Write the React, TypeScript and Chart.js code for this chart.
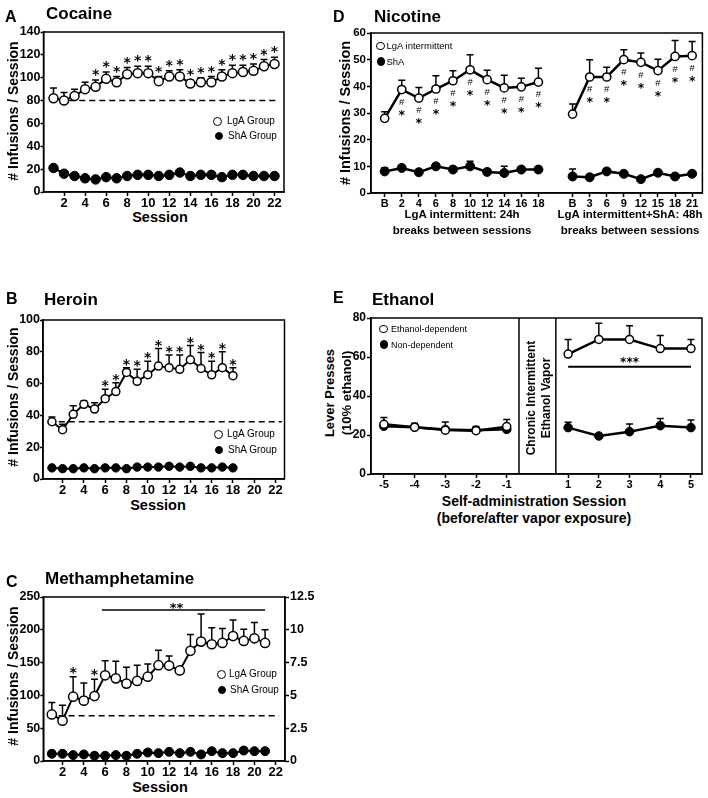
import React, { useEffect, useRef } from "react";
import { Chart, registerables } from "chart.js";

Chart.register(...registerables);

const SANS = "'Liberation Sans', Arial, Helvetica, sans-serif";
const SYM = "'DejaVu Sans', 'Liberation Sans', sans-serif";

/* ---------------- Panel A: Cocaine ---------------- */
const cocaineSessions = [1, 2, 3, 4, 5, 6, 7, 8, 9, 10, 11, 12, 13, 14, 15, 16, 17, 18, 19, 20, 21, 22];
const cocaineLgA = [82, 80, 84, 90, 92, 99, 96, 103, 104, 104, 97, 101, 101, 95, 96, 96, 101, 104, 105, 106, 110, 112];
const cocaineLgAUpper = [91, 87, 90, 96, 98, 105, 101, 109, 110, 110, 101, 106, 107, 98, 100, 101, 107, 111, 111, 112, 116, 118];
const cocaineShA = [21, 16, 14, 12, 11, 13, 12, 14, 15, 15, 14, 15, 17, 14, 15, 15, 13, 15, 15, 14, 14, 14];
const cocaineStarSessions = [5, 6, 7, 8, 9, 10, 11, 12, 13, 14, 15, 16, 17, 18, 19, 20, 21, 22];
const cocaineBaseline = 80;
const cocaineYTicks = [0, 20, 40, 60, 80, 100, 120, 140];

/* ---------------- Panel B: Heroin ---------------- */
const heroinSessions = [1, 2, 3, 4, 5, 6, 7, 8, 9, 10, 11, 12, 13, 14, 15, 16, 17, 18];
const heroinLgA = [36, 31, 40.7, 47, 44, 50.5, 55, 67, 61.4, 65.6, 71, 70, 69, 75, 69.5, 65.5, 70, 65];
const heroinLgAUpper = [39, 34.5, 46, 49, 48, 56.5, 60.5, 70, 69, 74, 82, 78, 78, 84, 79.5, 74, 80, 70];
const heroinShA = [7, 6.5, 6.5, 7, 6.5, 7, 7, 6.5, 7.5, 7.5, 7.5, 8, 7.5, 8, 7, 7, 7.5, 7];
const heroinStarSessions = [6, 7, 8, 9, 10, 11, 12, 13, 14, 15, 16, 17, 18];
const heroinBaseline = 36;
const heroinYTicks = [0, 20, 40, 60, 80, 100];

/* ---------------- Panel C: Methamphetamine ---------------- */
const methSessions = [1, 2, 3, 4, 5, 6, 7, 8, 9, 10, 11, 12, 13, 14, 15, 16, 17, 18, 19, 20, 21];
const methLgA = [71, 61.5, 98, 92, 99, 130.6, 126, 118, 122, 128.5, 146, 145.5, 138, 168, 182, 178, 180, 190.5, 183, 187, 180];
const methLgAUpper = [89, 85, 128.5, 119, 124.5, 153, 152, 143, 146, 148, 169, 160, 142, 193, 224, 203, 202, 215, 201, 211, 200];
const methShA = [11, 11, 9, 10, 8, 8, 9, 8, 11, 13, 12, 14, 12, 14, 10, 15, 12, 12, 16, 15, 15];
const methStarSessions = [3, 5];
const methSigSpan = [5.7, 21];
const methSigLevel = 230;
const methBaseline = 69;
const methYTicks = [0, 50, 100, 150, 200, 250];
const methY2Ticks = [0, 2.5, 5, 7.5, 10, 12.5];

const sessionTicks = [2, 4, 6, 8, 10, 12, 14, 16, 18, 20, 22];

/* ---------------- Panel D: Nicotine ---------------- */
const nicotineDailyLabels = ["B", "2", "4", "6", "8", "10", "12", "14", "16", "18"];
const nicotineDailyLgA = [28, 38.8, 35.6, 39, 42.1, 46.2, 42.5, 39.4, 39.8, 41.6];
const nicotineDailyLgAUpper = [30.5, 42.3, 39.6, 44, 45.8, 51.8, 46, 44.2, 43, 46.8];
const nicotineDailyShA = [8.1, 9.4, 7.8, 10, 8.8, 10, 7.9, 7.5, 8.8, 8.8];
const nicotineDailyShAUpper = [9.5, 10.5, 8.8, 11, 9.8, 11.9, 9, 10, 9.8, 9.8];
const nicotineDailySig = ["2", "4", "6", "8", "10", "12", "14", "16", "18"];
const nicotineSpacedLabels = ["B", "3", "6", "9", "12", "15", "18", "21"];
const nicotineSpacedLgA = [29.6, 43.5, 43.5, 50, 49, 45.9, 51.2, 51.5];
const nicotineSpacedLgAUpper = [33.4, 50, 47.2, 53.7, 52.5, 50.2, 57.2, 56.8];
const nicotineSpacedShA = [6.2, 5.9, 8.1, 7.2, 5.2, 7.6, 6.2, 7.2];
const nicotineSpacedShAUpper = [9, 6.5, 8.8, 7.8, 5.8, 8.2, 6.8, 7.8];
const nicotineSpacedSig = ["3", "6", "9", "12", "15", "18", "21"];
const nicotineYTicks = [0, 10, 20, 30, 40, 50, 60];

/* ---------------- Panel E: Ethanol ---------------- */
const ethanolPreSessions = [-5, -4, -3, -2, -1];
const ethanolPostSessions = [1, 2, 3, 4, 5];
const ethanolDepPre = [25.5, 24, 22.5, 22.2, 24.3];
const ethanolDepPreUpper = [29, 26, 26.7, 24.3, 28];
const ethanolNonPre = [24.5, 24, 22.8, 22.5, 22.9];
const ethanolDepPost = [61.5, 69, 69, 64.3, 64.3];
const ethanolDepPostUpper = [69, 77.3, 76, 71, 69];
const ethanolNonPost = [23.8, 19.5, 21.7, 24.8, 23.8];
const ethanolNonPostUpper = [26.5, 20.5, 25.6, 28.5, 27.7];
const ethanolSigLevel = 55;
const ethanolYTicks = [0, 20, 40, 60, 80];

/* ---------------- helpers ---------------- */
function linAxis(o: any) {
  return {
    type: "linear",
    position: o.position,
    min: o.min,
    max: o.max,
    afterBuildTicks: (s: any) => {
      s.ticks = o.ticks.map((v: number) => ({ value: v }));
    },
    afterFit: (s: any) => {
      if (o.width != null) s.width = o.width;
      if (o.height != null) s.height = o.height;
    },
    ticks: {
      autoSkip: false,
      maxRotation: 0,
      minRotation: 0,
      padding: o.pad ?? 1,
      color: "#000",
      font: { family: SANS, size: o.size, weight: "bold" },
      callback: o.label ?? ((v: number) => String(v)),
    },
    grid: {
      display: true,
      drawOnChartArea: false,
      drawTicks: true,
      tickLength: o.tl ?? 4,
      tickWidth: 1.5,
      tickColor: "#000",
      color: "#000",
    },
    border: { display: true, color: "#000", width: 1.5 },
  };
}

function baseOptions(top: number, right: number, scales: any) {
  return {
    responsive: false,
    animation: false,
    events: [],
    layout: { padding: { top, right, bottom: 0, left: 0 } },
    plugins: { legend: { display: false }, tooltip: { enabled: false }, title: { display: false } },
    scales,
  };
}

function series(xs: number[], ys: number[], r: number, filled: boolean, lw: number) {
  return {
    data: xs.map((x, i) => ({ x, y: ys[i] })),
    borderColor: "#000",
    borderWidth: lw,
    pointRadius: r,
    pointHoverRadius: r,
    pointBorderWidth: filled ? 1 : 1.5,
    pointBackgroundColor: filled ? "#000" : "#fff",
    pointBorderColor: "#000",
    fill: false,
    tension: 0,
    clip: false,
  };
}

function frame(chart: any) {
  const { ctx, chartArea: a } = chart;
  ctx.save();
  ctx.strokeStyle = "#000";
  ctx.lineWidth = 1.5;
  ctx.strokeRect(a.left, a.top, a.right - a.left, a.bottom - a.top);
  ctx.restore();
}

function upperBars(chart: any, ds: number, upper: number[], cap: number) {
  const ctx = chart.ctx;
  const y = chart.scales.y;
  const meta = chart.getDatasetMeta(ds);
  ctx.save();
  ctx.strokeStyle = "#000";
  ctx.lineWidth = 1.5;
  meta.data.forEach((pt: any, i: number) => {
    const hi = upper[i];
    if (hi == null) return;
    const yHi = y.getPixelForValue(hi);
    ctx.beginPath();
    ctx.moveTo(pt.x, pt.y);
    ctx.lineTo(pt.x, yHi);
    ctx.moveTo(pt.x - cap, yHi);
    ctx.lineTo(pt.x + cap, yHi);
    ctx.stroke();
  });
  ctx.restore();
}

function hLine(chart: any, x0: number, x1: number, v: number, dashed: boolean, lw: number) {
  const { ctx, scales } = chart;
  const yy = scales.y.getPixelForValue(v);
  ctx.save();
  ctx.strokeStyle = "#000";
  ctx.lineWidth = lw;
  if (dashed) ctx.setLineDash([6, 4]);
  ctx.beginPath();
  ctx.moveTo(scales.x.getPixelForValue(x0), yy);
  ctx.lineTo(scales.x.getPixelForValue(x1), yy);
  ctx.stroke();
  ctx.restore();
}

function sym(ctx: any, text: string, x: number, cy: number, font: string, size: number, lift: number) {
  ctx.save();
  ctx.fillStyle = "#000";
  ctx.font = font;
  ctx.textAlign = "center";
  ctx.textBaseline = "alphabetic";
  ctx.fillText(text, x, cy + lift * size);
  ctx.restore();
}

function star(ctx: any, text: string, x: number, cy: number, size: number) {
  sym(ctx, text, x, cy, `bold ${size}px ${SYM}`, size, 0.58);
}

/* ---------------- chart builders ---------------- */
function sessionConfig(p: any) {
  const scales: any = {
    x: linAxis({ position: "bottom", min: p.xMin, max: p.xMax, ticks: sessionTicks, size: 13, height: 16, pad: 0 }),
    y: linAxis({ position: "left", min: 0, max: p.yMax, ticks: p.yTicks, size: 12.5, width: p.yWidth, pad: 0, tl: 3 }),
  };
  if (p.y2) {
    scales.y2 = linAxis({ position: "right", min: 0, max: p.y2.max, ticks: p.y2.ticks, size: 12.5, width: p.y2.width, pad: 1 });
  }
  return {
    type: "line",
    data: {
      datasets: [
        series(p.sessions, p.lgA, p.openR, false, 2),
        series(p.sessions, p.shA, p.filledR, true, 2),
      ],
    },
    options: baseOptions(p.padTop, p.padRight, scales),
    plugins: [
      {
        id: "panelDecor",
        beforeDatasetsDraw(chart: any) {
          frame(chart);
          hLine(chart, p.baselineSpan[0], p.baselineSpan[1], p.baseline, true, 1.5);
          upperBars(chart, 0, p.lgAUpper, 3.5);
        },
        afterDatasetsDraw(chart: any) {
          const { ctx, scales: s } = chart;
          p.stars.forEach((sess: number) => {
            const i = p.sessions.indexOf(sess);
            star(ctx, "*", s.x.getPixelForValue(sess), s.y.getPixelForValue(p.lgAUpper[i]) - p.starGap, 14);
          });
          if (p.extra) p.extra(chart);
        },
      },
    ],
  };
}

const makeCocaine = () =>
  sessionConfig({
    sessions: cocaineSessions, lgA: cocaineLgA, lgAUpper: cocaineLgAUpper, shA: cocaineShA,
    stars: cocaineStarSessions, starGap: 9, baseline: cocaineBaseline, baselineSpan: [0.6, 22.4],
    xMin: 0.05, xMax: 22.9, yMax: 140, yTicks: cocaineYTicks, yWidth: 43.5, padTop: 12, padRight: 5,
    openR: 4.5, filledR: 4.75,
  });

const makeHeroin = () =>
  sessionConfig({
    sessions: heroinSessions, lgA: heroinLgA, lgAUpper: heroinLgAUpper, shA: heroinShA,
    stars: heroinStarSessions, starGap: 7, baseline: heroinBaseline, baselineSpan: [0.7, 22.6],
    xMin: 0.16, xMax: 22.84, yMax: 100, yTicks: heroinYTicks, yWidth: 43, padTop: 12, padRight: 5,
    openR: 4, filledR: 4.2,
  });

const makeMeth = () =>
  sessionConfig({
    sessions: methSessions, lgA: methLgA, lgAUpper: methLgAUpper, shA: methShA,
    stars: methStarSessions, starGap: 8, baseline: methBaseline, baselineSpan: [0.7, 22.3],
    xMin: 0.2, xMax: 22.87, yMax: 250, yTicks: methYTicks, yWidth: 43.3, padTop: 12, padRight: 0,
    openR: 4.6, filledR: 4.5,
    y2: { max: 12.5, ticks: methY2Ticks, width: 31 },
    extra(chart: any) {
      const { ctx, scales: s } = chart;
      hLine(chart, methSigSpan[0], methSigSpan[1], methSigLevel, false, 1.5);
      star(ctx, "**", s.x.getPixelForValue(12.7), s.y.getPixelForValue(methSigLevel) - 6, 13);
    },
  });

const nicotineDailyX = nicotineDailyLabels.map((_, i) => i);
const nicotineSpacedX = nicotineSpacedLabels.map((_, i) => nicotineDailyLabels.length + 1 + i);
const nicotineTickX = [...nicotineDailyX, ...nicotineSpacedX];
const nicotineTickText = [...nicotineDailyLabels, ...nicotineSpacedLabels];

const makeNicotine = () => ({
  type: "line",
  data: {
    datasets: [
      series(nicotineDailyX, nicotineDailyLgA, 4.1, false, 2.5),
      series(nicotineSpacedX, nicotineSpacedLgA, 4.1, false, 2.5),
      series(nicotineDailyX, nicotineDailyShA, 4.5, true, 2.5),
      series(nicotineSpacedX, nicotineSpacedShA, 4.5, true, 2.5),
    ],
  },
  options: baseOptions(12, 5, {
    x: linAxis({
      position: "bottom", min: -0.8, max: 18.6, ticks: nicotineTickX, size: 11, height: 16, pad: 0,
      label: (v: number) => {
        const k = nicotineTickX.indexOf(v);
        return k >= 0 ? nicotineTickText[k] : "";
      },
    }),
    y: linAxis({ position: "left", min: 0, max: 60, ticks: nicotineYTicks, size: 11.5, width: 26 }),
  }),
  plugins: [
    {
      id: "nicDecor",
      beforeDatasetsDraw(chart: any) {
        frame(chart);
        upperBars(chart, 0, nicotineDailyLgAUpper, 3.5);
        upperBars(chart, 1, nicotineSpacedLgAUpper, 3.5);
        upperBars(chart, 2, nicotineDailyShAUpper, 3.5);
        upperBars(chart, 3, nicotineSpacedShAUpper, 3.5);
      },
      afterDatasetsDraw(chart: any) {
        const ctx = chart.ctx;
        const groups = [
          { ds: 0, labels: nicotineDailyLabels, sig: nicotineDailySig },
          { ds: 1, labels: nicotineSpacedLabels, sig: nicotineSpacedSig },
        ];
        groups.forEach((g) => {
          const meta = chart.getDatasetMeta(g.ds);
          g.labels.forEach((lab, i) => {
            if (!g.sig.includes(lab)) return;
            const pt = meta.data[i];
            sym(ctx, "#", pt.x, pt.y + 12, `9.5px ${SANS}`, 9.5, 0.35);
            star(ctx, "*", pt.x, pt.y + 22, 12.5);
          });
        });
      },
    },
  ],
});

const makeEthanol = () => ({
  type: "line",
  data: {
    datasets: [
      series(ethanolPreSessions, ethanolDepPre, 4, false, 2.5),
      series(ethanolPostSessions, ethanolDepPost, 4, false, 2.5),
      series(ethanolPreSessions, ethanolNonPre, 4.3, true, 2.5),
      series(ethanolPostSessions, ethanolNonPost, 4.3, true, 2.5),
    ],
  },
  options: baseOptions(12, 6, {
    x: linAxis({
      position: "bottom", min: -5.42, max: 5.36, ticks: [...ethanolPreSessions, ...ethanolPostSessions],
      size: 11, height: 16, pad: 0,
    }),
    y: linAxis({ position: "left", min: 0, max: 80, ticks: ethanolYTicks, size: 12, width: 26 }),
  }),
  plugins: [
    {
      id: "ethDecor",
      beforeDatasetsDraw(chart: any) {
        const { ctx, chartArea: a, scales: s } = chart;
        frame(chart);
        ctx.save();
        ctx.strokeStyle = "#000";
        ctx.lineWidth = 1.5;
        [-0.6, 0.6].forEach((v) => {
          const xx = s.x.getPixelForValue(v);
          ctx.beginPath();
          ctx.moveTo(xx, a.top);
          ctx.lineTo(xx, a.bottom);
          ctx.stroke();
        });
        ctx.restore();
        upperBars(chart, 0, ethanolDepPreUpper, 3.5);
        upperBars(chart, 1, ethanolDepPostUpper, 3.5);
        upperBars(chart, 3, ethanolNonPostUpper, 3.5);
      },
      afterDatasetsDraw(chart: any) {
        const { ctx, scales: s } = chart;
        const first = ethanolPostSessions[0];
        const last = ethanolPostSessions[ethanolPostSessions.length - 1];
        hLine(chart, first, last, ethanolSigLevel, false, 2);
        star(ctx, "***", s.x.getPixelForValue((first + last) / 2), s.y.getPixelForValue(ethanolSigLevel) - 8, 12);
      },
    },
  ],
});

/* ---------------- components ---------------- */
function ChartCanvas({ x, y, w, h, make }: any) {
  const ref = useRef<HTMLCanvasElement | null>(null);
  useEffect(() => {
    if (!ref.current) return;
    const chart = new Chart(ref.current, make());
    return () => chart.destroy();
  }, [make]);
  return (
    <canvas
      ref={ref}
      width={w}
      height={h}
      style={{ position: "absolute", left: x, top: y, width: w, height: h }}
    />
  );
}

function Txt({ x, y, size, weight = 700, align = "left", rotate = false, children }: any) {
  const tx = align === "center" ? "-50%" : align === "right" ? "-100%" : "0";
  return (
    <div
      style={{
        position: "absolute",
        left: x,
        top: y,
        fontSize: size,
        fontWeight: weight,
        lineHeight: 1,
        whiteSpace: "nowrap",
        transform: rotate ? "translate(-50%,-50%) rotate(-90deg)" : `translate(${tx},-50%)`,
      }}
    >
      {children}
    </div>
  );
}

function Dot({ x, y, d, filled }: any) {
  return (
    <div
      style={{
        position: "absolute",
        left: x - d / 2,
        top: y - d / 2,
        width: d,
        height: d,
        borderRadius: "50%",
        boxSizing: "border-box",
        border: "1.5px solid #000",
        background: filled ? "#000" : "#fff",
      }}
    />
  );
}

function LegendItem({ x, y, tx, d, filled, size, children }: any) {
  return (
    <>
      <Dot x={x} y={y} d={d} filled={filled} />
      <Txt x={tx} y={y} size={size} weight={400}>
        {children}
      </Txt>
    </>
  );
}

export default function App() {
  return (
    <div
      style={{
        position: "absolute",
        left: 0,
        top: 0,
        width: 708,
        height: 798,
        background: "#fff",
        color: "#000",
        fontFamily: SANS,
        overflow: "hidden",
      }}
    >
      <ChartCanvas x={0} y={20} w={290} h={188} make={makeCocaine} />
      <ChartCanvas x={0} y={308} w={290} h={187} make={makeHeroin} />
      <ChartCanvas x={0} y={585} w={316} h={192} make={makeMeth} />
      <ChartCanvas x={345} y={21} w={363} h={188} make={makeNicotine} />
      <ChartCanvas x={345} y={306} w={363} h={184} make={makeEthanol} />

      {/* Panel A */}
      <Txt x={5} y={17} size={16}>A</Txt>
      <Txt x={46} y={12.5} size={17}>Cocaine</Txt>
      <Txt x={13} y={111} size={14} rotate>
        # Infusions / Session
      </Txt>
      <Txt x={160} y={217} size={14.5} align="center">Session</Txt>
      <LegendItem x={217.5} y={121} tx={227} d={9} filled={false} size={10}>LgA Group</LegendItem>
      <LegendItem x={219} y={136} tx={228} d={8.5} filled size={10}>ShA Group</LegendItem>

      {/* Panel B */}
      <Txt x={6} y={299} size={16}>B</Txt>
      <Txt x={44} y={299} size={17}>Heroin</Txt>
      <Txt x={13} y={397} size={14} rotate>
        # Infusions / Session
      </Txt>
      <Txt x={158} y={505} size={14.5} align="center">Session</Txt>
      <LegendItem x={218} y={434} tx={227} d={9} filled={false} size={10}>LgA Group</LegendItem>
      <LegendItem x={219} y={450} tx={228} d={8.5} filled size={10}>ShA Group</LegendItem>

      {/* Panel C */}
      <Txt x={6} y={582} size={16}>C</Txt>
      <Txt x={45} y={578} size={17}>Methamphetamine</Txt>
      <Txt x={13} y={676} size={14} rotate>
        # Infusions / Session
      </Txt>
      <Txt x={160} y={787} size={14.5} align="center">Session</Txt>
      <LegendItem x={221} y={674} tx={229} d={9} filled={false} size={10}>LgA Group</LegendItem>
      <LegendItem x={222} y={690} tx={230} d={8.5} filled size={10}>ShA Group</LegendItem>

      {/* Panel D */}
      <Txt x={333} y={17} size={16}>D</Txt>
      <Txt x={374} y={15.5} size={17}>Nicotine</Txt>
      <Txt x={345} y={113} size={14.5} rotate>
        # Infusions / Session
      </Txt>
      <Txt x={462} y={215} size={11.5} align="center">LgA intermittent: 24h</Txt>
      <Txt x={462} y={231} size={11.5} align="center">breaks between sessions</Txt>
      <Txt x={630} y={215} size={11.5} align="center">LgA intermittent+ShA: 48h</Txt>
      <Txt x={630} y={231} size={11.5} align="center">breaks between sessions</Txt>
      <LegendItem x={380.7} y={46} tx={386.5} d={8.5} filled={false} size={9.5}>LgA intermittent</LegendItem>
      <LegendItem x={381} y={61.5} tx={386.5} d={8.5} filled size={9.5}>ShA</LegendItem>

      {/* Panel E */}
      <Txt x={333} y={298} size={16}>E</Txt>
      <Txt x={372} y={298.5} size={17}>Ethanol</Txt>
      <Txt x={329} y={393} size={13} rotate>Lever Presses</Txt>
      <Txt x={346} y={393} size={13} rotate>(10% ethanol)</Txt>
      <Txt x={531} y={398} size={12} rotate>Chronic Intermittent</Txt>
      <Txt x={546} y={398} size={12} rotate>Ethanol Vapor</Txt>
      <Txt x={534} y={501} size={14} align="center">Self-administration Session</Txt>
      <Txt x={534} y={518} size={14} align="center">(before/after vapor exposure)</Txt>
      <LegendItem x={383.5} y={329} tx={391} d={8.5} filled={false} size={9}>Ethanol-dependent</LegendItem>
      <LegendItem x={384} y={344.5} tx={391} d={8.5} filled size={9}>Non-dependent</LegendItem>
    </div>
  );
}
